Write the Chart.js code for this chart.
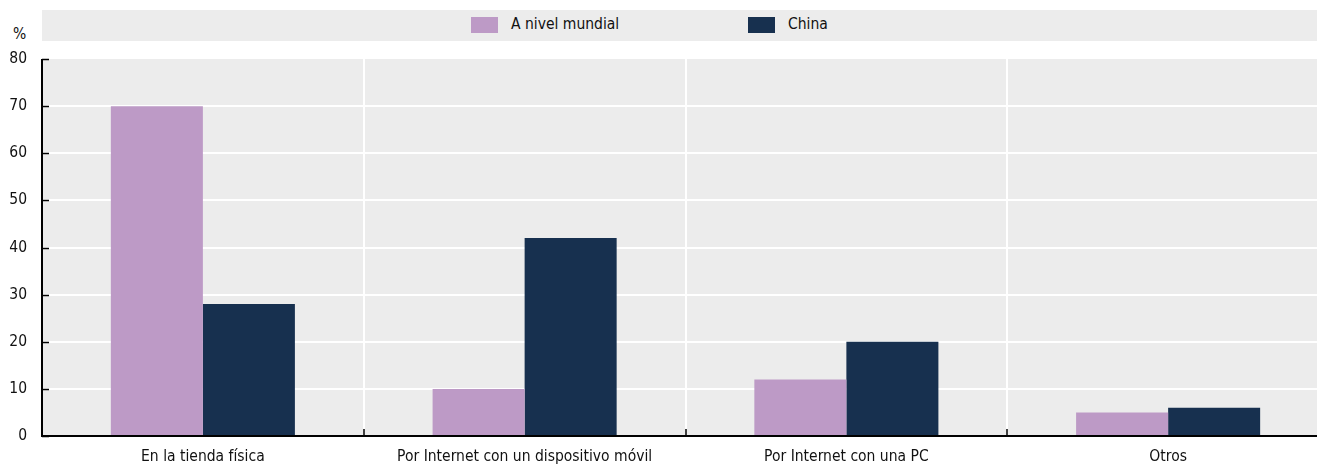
<!DOCTYPE html>
<html>
<head>
<meta charset="utf-8">
<script src="https://cdn.jsdelivr.net/npm/chart.js@4/dist/chart.umd.min.js"></script>
<style>
  html, body { margin: 0; padding: 0; background: #fff; overflow: hidden; }
  body { font-family: "Liberation Sans Narrow", "Arial Narrow", "DejaVu Sans Condensed", sans-serif; }
  #wrap { position: relative; width: 1317px; height: 468px; overflow: hidden; }
  #legend { position: absolute; left: 42px; top: 10px; width: 1275px; height: 31px; background: #ececec; }
  .item { position: absolute; top: 0; height: 31px; line-height: 31px; font-size: 15.5px; color: #111; }
  .item span { position: absolute; top: 7px; width: 27px; height: 16px; }
  .item b { font-weight: normal; position: absolute; left: 40px; top: -1px; white-space: nowrap; }
  #unit { position: absolute; left: 13px; top: 25px; font-size: 15.5px; color: #111; }
  canvas { position: absolute; left: 0; top: 0; }
</style>
</head>
<body>
<div id="wrap">
  <div id="legend"></div>
  <div id="unit">%</div>
  <canvas id="myChart" width="1329" height="468"></canvas>
</div>
<script>
const categories = ["En la tienda física", "Por Internet con un dispositivo móvil", "Por Internet con una PC", "Otros"];
const seriesNames = ["A nivel mundial", "China"];
const mundial = [70, 10, 12, 5];
const china = [28, 42, 20, 6];
const yTicks = [0, 10, 20, 30, 40, 50, 60, 70, 80];

const colors = ["#bd9ac6", "#17304f"];
const FONT = '"Liberation Sans Narrow", "Arial Narrow", "DejaVu Sans Condensed", sans-serif';
const FSIZE = 15.5;

// legend strip above the plot
const legendX = [429, 706];
const legend = document.getElementById('legend');
seriesNames.forEach(function (name, i) {
  const it = document.createElement('div');
  it.className = 'item';
  it.style.left = legendX[i] + 'px';
  it.innerHTML = '<span style="background:' + colors[i] + '"></span><b>' + name + '</b>';
  legend.appendChild(it);
});

// grey plot background + axis lines and inward tick marks
const plotDecor = {
  id: 'plotDecor',
  beforeDraw: function (chart) {
    const a = chart.chartArea, c = chart.ctx;
    c.save();
    c.fillStyle = '#ececec';
    c.fillRect(a.left, a.top, a.right - a.left, a.bottom - a.top);
    c.restore();
  },
  afterDatasetsDraw: function (chart) {
    const a = chart.chartArea, c = chart.ctx;
    const y = chart.scales.y;
    c.save();
    c.strokeStyle = '#000';
    c.lineWidth = 2;
    c.beginPath();
    c.moveTo(a.left, a.top);
    c.lineTo(a.left, a.bottom);
    c.lineTo(a.right, a.bottom);
    c.stroke();
    c.lineWidth = 1.5;
    yTicks.forEach(function (v) {
      const py = Math.round(y.getPixelForValue(v)) + 0.5;
      c.beginPath();
      c.moveTo(a.left, py);
      c.lineTo(a.left + 7, py);
      c.stroke();
    });
    const step = (a.right - a.left) / categories.length;
    for (let i = 1; i < categories.length; i++) {
      const px = Math.round(a.left + step * i);
      c.beginPath();
      c.moveTo(px, a.bottom);
      c.lineTo(px, a.bottom - 7);
      c.stroke();
    }
    c.restore();
  }
};

const ctx = document.getElementById('myChart').getContext('2d');
const chart = new Chart(ctx, {
  type: 'bar',
  data: {
    labels: categories,
    datasets: [
      { label: seriesNames[0], data: mundial, backgroundColor: colors[0] },
      { label: seriesNames[1], data: china, backgroundColor: colors[1] }
    ]
  },
  options: {
    responsive: false,
    animation: false,
    layout: { padding: { top: 59, right: 0, left: 0, bottom: 0 } },
    plugins: { legend: { display: false }, tooltip: { enabled: false } },
    datasets: { bar: { categoryPercentage: 0.572, barPercentage: 1.0 } },
    scales: {
      x: {
        grid: { offset: true, color: '#ffffff', lineWidth: 2, drawTicks: false },
        border: { display: false },
        ticks: { color: '#111', font: { family: FONT, size: FSIZE }, padding: 12, maxRotation: 0 },
        afterFit: function (s) { s.height = 32; }
      },
      y: {
        min: 0, max: 80,
        afterBuildTicks: function (s) { s.ticks = yTicks.map(function (v) { return { value: v }; }); },
        grid: {
          color: function (c) { return (c.tick && (c.tick.value === 0 || c.tick.value === 80)) ? 'rgba(0,0,0,0)' : '#ffffff'; },
          lineWidth: 2, drawTicks: false
        },
        border: { display: false },
        ticks: { color: '#111', font: { family: FONT, size: FSIZE }, padding: 15 },
        afterFit: function (s) { s.width = 42; }
      }
    }
  },
  plugins: [plotDecor]
});
</script>
</body>
</html>
